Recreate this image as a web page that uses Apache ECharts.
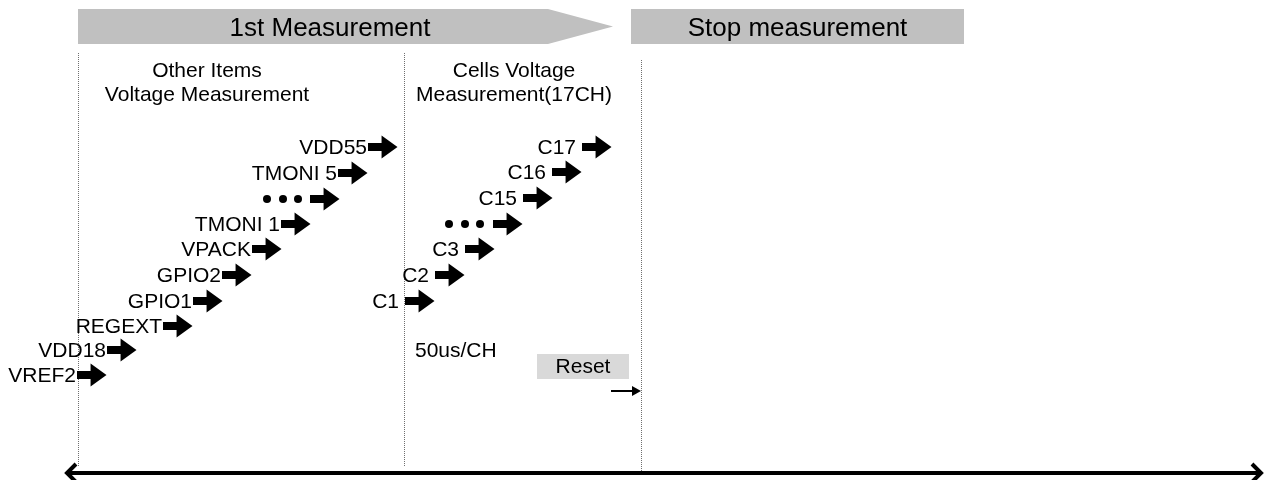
<!DOCTYPE html>
<html><head><meta charset="utf-8">
<script src="https://cdn.jsdelivr.net/npm/echarts@6/dist/echarts.min.js"></script>
<style>html,body{margin:0;padding:0;background:#fff}#c{width:1271px;height:480px}</style>
</head><body><div id="c"></div>
<script>
// ---- data (diagram units = time axis x, row axis y) ----
const phaseNames = ['1st Measurement', 'Stop measurement'];
const phaseStart = [78, 631];
const phaseEnd = [613, 964];
const phaseIsArrow = [1, 0];

const sectionTitles = ['Other Items\nVoltage Measurement', 'Cells Voltage\nMeasurement(17CH)'];
const sectionCenter = [207, 514];
const sectionRow = [82, 82];

const otherLabels = ['VREF2', 'VDD18', 'REGEXT', 'GPIO1', 'GPIO2', 'VPACK', 'TMONI 1', '', 'TMONI 5', 'VDD55'];
const otherTime = [77, 107, 163, 193, 222, 252, 281, 310, 338, 368];
const otherRow = [375, 350, 326, 301, 275, 249, 224, 199, 173, 147];

const cellLabels = ['C1', 'C2', 'C3', '', 'C15', 'C16', 'C17'];
const cellTime = [405, 435, 465, 493, 523, 552, 582];
const cellRow = [301, 275, 249, 224, 198, 172, 147];

const boundaryTime = [78, 404, 641];
const boundaryFrom = [53, 53, 60];
const boundaryTo = [466, 467, 471];

const noteText = ['50us/CH'];
const noteTime = [415];
const noteRow = [350];

const resetText = ['Reset'];
const resetFrom = [537];
const resetTo = [629];
const resetRow = [354, 379];
const resetArrow = [611, 641, 391];

const timeAxisRange = [65, 1263];
const timeAxisRow = 473;

// ---- styles ----
const FONT = '"Liberation Sans", Arial, Helvetica, sans-serif';
const BANNER_FILL = '#c0c0c0';

const chart = echarts.init(document.getElementById('c'), null, { renderer: 'canvas' });

function blockArrow(api, t, row) {
  const p = api.coord([t, row]);
  const e = api.coord([t + 29.5, row]);
  const len = e[0] - p[0];
  const neck = p[0] + len * 0.46;
  return {
    type: 'polygon',
    shape: { points: [
      [p[0], p[1] - 4], [neck, p[1] - 4], [neck, p[1] - 11.5], [e[0], p[1]],
      [neck, p[1] + 11.5], [neck, p[1] + 4], [p[0], p[1] + 4]
    ] },
    style: { fill: '#000' }
  };
}

function stepSeries(name, labels, times, rows, gap, dotOffsets) {
  return {
    type: 'custom', name: name, coordinateSystem: 'cartesian2d', silent: true,
    data: labels.map((l, i) => [times[i], rows[i], l]),
    renderItem: function (params, api) {
      const t = api.value(0), row = api.value(1);
      const label = labels[params.dataIndex];
      const p = api.coord([t, row]);
      const children = [blockArrow(api, t, row)];
      if (label) {
        children.push({
          type: 'text',
          style: { text: label, x: p[0] - gap, y: p[1] + 1, align: 'right', verticalAlign: 'middle',
                   font: '21px ' + FONT, fill: '#000' }
        });
      } else {
        dotOffsets.forEach(o => {
          const c = api.coord([t + o, row]);
          children.push({ type: 'circle', shape: { cx: c[0], cy: c[1], r: 4 }, style: { fill: '#000' } });
        });
      }
      return { type: 'group', children: children };
    }
  };
}

const option = {
  animation: false,
  backgroundColor: '#fff',
  grid: { left: 0, right: 0, top: 0, bottom: 0 },
  xAxis: { type: 'value', min: 0, max: 1271, show: false },
  yAxis: { type: 'value', min: 0, max: 480, inverse: true, show: false },
  series: [
    // phase banners
    {
      type: 'custom', name: 'phases', silent: true,
      data: phaseNames.map((n, i) => [phaseStart[i], phaseEnd[i], phaseIsArrow[i]]),
      renderItem: function (params, api) {
        const a = api.coord([api.value(0), 9]);
        const b = api.coord([api.value(1), 44]);
        const isArrow = api.value(2) === 1;
        const mid = (a[1] + b[1]) / 2;
        let shape, textCenter;
        if (isArrow) {
          const neck = api.coord([api.value(1) - 65, 0])[0];
          shape = { type: 'polygon', shape: { points: [[a[0], a[1]], [neck, a[1]], [b[0], mid], [neck, b[1]], [a[0], b[1]]] },
                    style: { fill: BANNER_FILL } };
          textCenter = (a[0] + neck) / 2 + 17;
        } else {
          shape = { type: 'rect', shape: { x: a[0], y: a[1], width: b[0] - a[0], height: b[1] - a[1] },
                    style: { fill: BANNER_FILL } };
          textCenter = (a[0] + b[0]) / 2;
        }
        return { type: 'group', children: [shape, {
          type: 'text',
          style: { text: phaseNames[params.dataIndex], x: textCenter, y: mid + 2, align: 'center', verticalAlign: 'middle',
                   font: '26px ' + FONT, fill: '#000' }
        }] };
      }
    },
    // boundaries (dotted)
    {
      type: 'custom', name: 'boundaries', silent: true,
      data: boundaryTime.map((t, i) => [t, boundaryFrom[i], boundaryTo[i]]),
      renderItem: function (params, api) {
        const a = api.coord([api.value(0), api.value(1)]);
        const b = api.coord([api.value(0), api.value(2)]);
        return { type: 'line', shape: { x1: a[0] + 0.5, y1: a[1], x2: b[0] + 0.5, y2: b[1] },
                 style: { stroke: '#6f6f6f', lineWidth: 1, lineDash: [1, 1] } };
      }
    },
    // section titles
    {
      type: 'custom', name: 'sections', silent: true,
      data: sectionTitles.map((s, i) => [sectionCenter[i], sectionRow[i]]),
      renderItem: function (params, api) {
        const p = api.coord([api.value(0), api.value(1)]);
        return { type: 'text', style: { text: sectionTitles[params.dataIndex], x: p[0], y: p[1] + 1,
                 align: 'center', verticalAlign: 'middle', font: '21px ' + FONT, lineHeight: 24, fill: '#000' } };
      }
    },
    stepSeries('other', otherLabels, otherTime, otherRow, 1, [-43, -27, -12]),
    stepSeries('cells', cellLabels, cellTime, cellRow, 6, [-44, -28, -13]),
    // note
    {
      type: 'custom', name: 'note', silent: true,
      data: noteText.map((n, i) => [noteTime[i], noteRow[i]]),
      renderItem: function (params, api) {
        const p = api.coord([api.value(0), api.value(1)]);
        return { type: 'text', style: { text: noteText[params.dataIndex], x: p[0], y: p[1] + 1, align: 'left',
                 verticalAlign: 'middle', font: '21px ' + FONT, fill: '#000' } };
      }
    },
    // reset
    {
      type: 'custom', name: 'reset', silent: true,
      data: resetText.map((n, i) => [resetFrom[i], resetTo[i]]),
      renderItem: function (params, api) {
        const a = api.coord([api.value(0), resetRow[0]]);
        const b = api.coord([api.value(1), resetRow[1]]);
        const s = api.coord([resetArrow[0], resetArrow[2]]);
        const e = api.coord([resetArrow[1], resetArrow[2]]);
        return { type: 'group', children: [
          { type: 'rect', shape: { x: a[0], y: a[1], width: b[0] - a[0], height: b[1] - a[1] }, style: { fill: '#d9d9d9' } },
          { type: 'text', style: { text: resetText[params.dataIndex], x: (a[0] + b[0]) / 2, y: (a[1] + b[1]) / 2 + 1,
            align: 'center', verticalAlign: 'middle', font: '21px ' + FONT, fill: '#000' } },
          { type: 'line', shape: { x1: s[0], y1: s[1], x2: e[0] - 7, y2: e[1] }, style: { stroke: '#000', lineWidth: 2 } },
          { type: 'polygon', shape: { points: [[e[0] - 9, e[1] - 5], [e[0], e[1]], [e[0] - 9, e[1] + 5]] }, style: { fill: '#000' } }
        ] };
      }
    },
    // time axis double arrow
    {
      type: 'custom', name: 'timeAxis', silent: true,
      data: [[timeAxisRange[0], timeAxisRange[1], timeAxisRow]],
      renderItem: function (params, api) {
        const a = api.coord([api.value(0), api.value(2)]);
        const b = api.coord([api.value(1), api.value(2)]);
        const st = { stroke: '#000', lineWidth: 4, fill: null, lineJoin: 'miter' };
        return { type: 'group', children: [
          { type: 'line', shape: { x1: a[0] + 2, y1: a[1], x2: b[0] - 2, y2: b[1] }, style: st },
          { type: 'polyline', shape: { points: [[a[0] + 11, a[1] - 9], [a[0] + 2, a[1]], [a[0] + 11, a[1] + 9]] }, style: st },
          { type: 'polyline', shape: { points: [[b[0] - 11, b[1] - 9], [b[0] - 2, b[1]], [b[0] - 11, b[1] + 9]] }, style: st }
        ] };
      }
    }
  ]
};
chart.setOption(option);
</script>
</body></html>
